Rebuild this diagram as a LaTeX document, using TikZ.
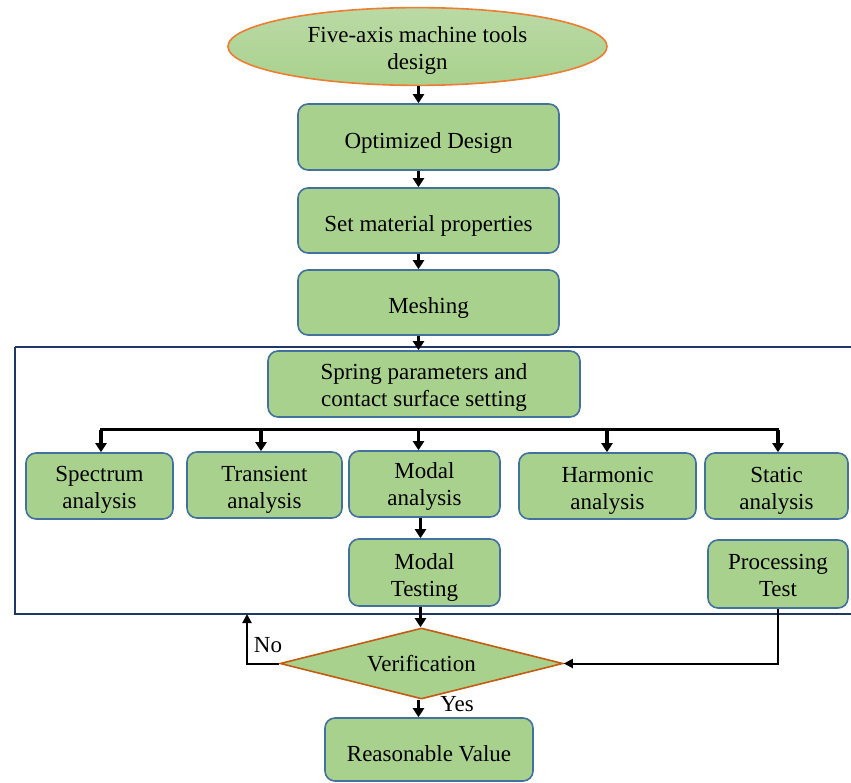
\documentclass[tikz,border=0pt]{standalone}
\usepackage{fontspec}
\setmainfont{Liberation Serif}
\usetikzlibrary{shapes.geometric,arrows.meta}
\definecolor{boxgreen}{HTML}{A9D18E}
\definecolor{boxblue}{HTML}{41719C}
\definecolor{orangeedge}{HTML}{ED7D31}
\definecolor{diaedge}{HTML}{C55A11}
\definecolor{framecol}{HTML}{1F3864}
\newcommand\lowstrut[1][27pt]{\rule{0pt}{#1}}
\tikzset{
  box/.style={draw=boxblue, line width=1.6pt, fill=boxgreen, rounded corners=10pt,
    align=center, font=\fontsize{23}{27}\selectfont, inner sep=0pt},
  bigarr/.style={line width=3.5pt, -{Triangle[length=9pt,width=11pt]}},
  busline/.style={line width=2.6pt},
  thinarr/.style={line width=2pt, -{Triangle[length=9pt,width=9pt]}},
  lbl/.style={font=\fontsize{23}{27}\selectfont, inner sep=0pt}
}
\begin{document}
\begin{tikzpicture}[x=1pt,y=-1pt]
\useasboundingbox (0,0) rectangle (851,783);
% frame
\draw[framecol, line width=2pt] (15,347) -- (860,347) (15,347) -- (15,614) -- (860,614);
\coordinate (ax) at (418.5,0);
\coordinate (bx) at (420.5,0);
% nodes
\node[ellipse, draw=orangeedge, line width=1.6pt, top color=boxgreen!80!white, bottom color=boxgreen,
  minimum width=379pt, minimum height=73pt,
  align=center, font=\fontsize{23}{27}\selectfont, inner sep=0pt] (ell) at (417.5,46.5)
  {\lowstrut[23pt]Five-axis machine tools\\design};
\node[box, minimum width=261pt, minimum height=66pt] (opt) at (428.5,137) {\lowstrut Optimized Design};
\node[box, minimum width=261pt, minimum height=65pt] (mat) at (428.5,220.5) {\lowstrut Set material properties};
\node[box, minimum width=261pt, minimum height=65pt] (mesh) at (428.5,302.5) {\lowstrut Meshing};
\node[box, minimum width=312pt, minimum height=66pt] (spring) at (424,384) {\lowstrut[23pt]Spring parameters and\\contact surface setting};
\node[box, minimum width=147pt, minimum height=66pt] (spec) at (99.5,486) {\lowstrut[23pt]Spectrum\\analysis};
\node[box, minimum width=155pt, minimum height=66pt] (trans) at (264.5,485) {\lowstrut[24pt]Transient\\analysis};
\node[box, minimum width=151pt, minimum height=66pt] (modal) at (424.5,484) {\lowstrut[21pt]Modal\\analysis};
\node[box, minimum width=177pt, minimum height=66pt] (harm) at (607.5,486) {\lowstrut[24pt]Harmonic\\analysis};
\node[box, minimum width=143pt, minimum height=66pt] (stat) at (776.5,486) {\lowstrut[24pt]Static\\analysis};
\node[box, minimum width=151pt, minimum height=67pt] (mtest) at (424.5,572.5) {\lowstrut[26pt]Modal\\Testing};
\node[box, minimum width=140pt, minimum height=68pt] (ptest) at (778,574) {\lowstrut[18pt]Processing\\Test};
\node[diamond, draw=diaedge, line width=1.6pt, fill=boxgreen, minimum width=283pt, minimum height=71pt,
  inner sep=0pt, aspect=4, font=\fontsize{23}{27}\selectfont] (ver) at (421.5,663.5) {\raisebox{-1pt}{Verification}};
\node[box, minimum width=208pt, minimum height=63pt] (reas) at (429,749.5) {\lowstrut[24pt]Reasonable Value};
% main arrows
\draw[bigarr] (ell.south -| ax) -- (opt.north -| ax);
\draw[bigarr] (opt.south -| ax) -- (mat.north -| ax);
\draw[bigarr] (mat.south -| ax) -- (mesh.north -| ax);
\draw[bigarr] (mesh.south -| ax) -- (spring.north -| ax);
% bus
\coordinate (busL) at (101,429.5);
\coordinate (busR) at (778,429.5);
\draw[busline] ([xshift=-1.3pt]busL) -- ([xshift=1.3pt]busR);
\draw[bigarr] (busL) -- (busL |- spec.north);
\draw[bigarr] (busL -| 261,0) -- (261,0 |- trans.north);
\draw[bigarr] (busL -| ax) -- (ax |- modal.north);
\draw[bigarr] (busL -| 607,0) -- (607,0 |- harm.north);
\draw[bigarr] (busR) -- (busR |- stat.north);
\draw[bigarr] (modal.south -| bx) -- (mtest.north -| bx);
\draw[bigarr] (mtest.south -| bx) -- (ver.north -| bx);
\draw[bigarr] (ver.south -| ax) -- (reas.north -| ax);
% feedback
\coordinate (noc) at (247,614);
\draw[thinarr] (ver.west) -- (ver.west -| noc) -- (noc);
\draw[thinarr] (ptest.south) -- (ptest.south |- ver.east) -- (ver.east);
\node[lbl] (no) at (268,645) {No};
\node[lbl] (yes) at (457,704) {Yes};
\end{tikzpicture}
\end{document}
